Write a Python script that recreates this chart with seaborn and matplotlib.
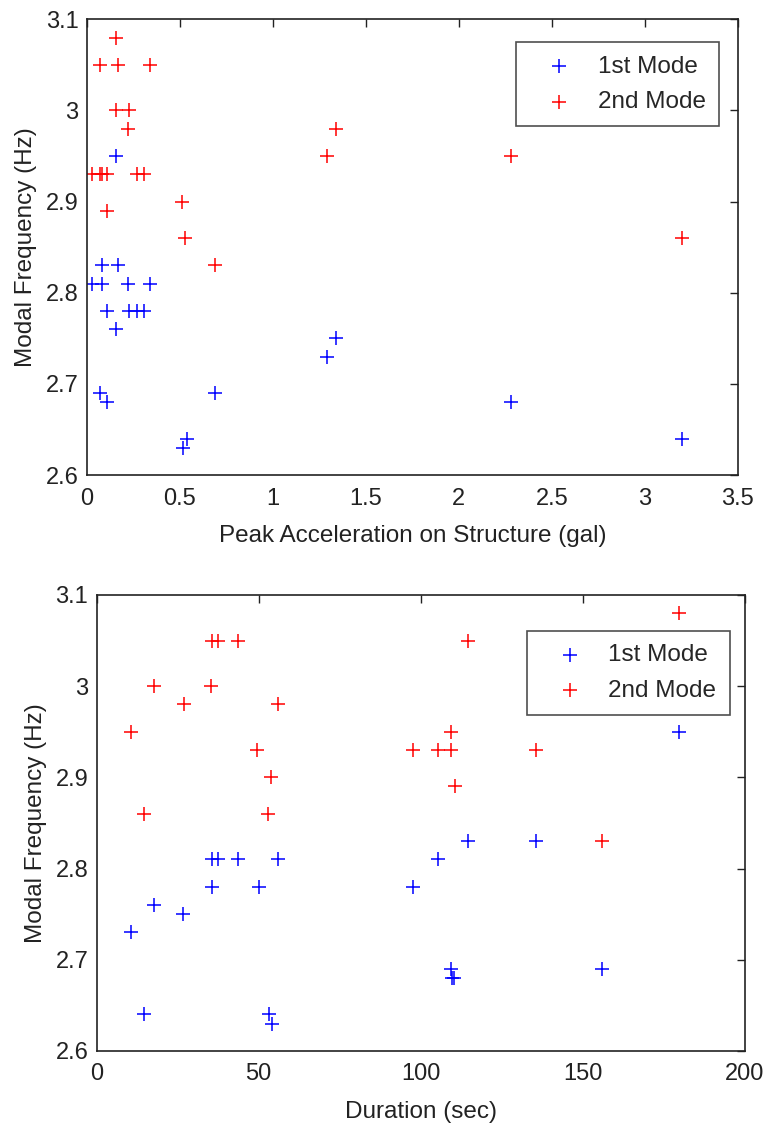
import numpy as np
import pandas as pd
import matplotlib
matplotlib.use("Agg")
import matplotlib.pyplot as plt
import seaborn as sns

# ---- data ----
# top panel: peak acceleration (gal) vs modal frequency (Hz)
acc_mode1_x = [0.16, 0.08, 0.17, 0.03, 0.08, 0.22, 0.34, 0.11, 0.23, 0.27, 0.31,
               0.16, 1.29, 1.34, 0.07, 0.11, 0.69, 0.54, 0.52, 2.28, 3.20]
acc_mode1_y = [2.95, 2.83, 2.83, 2.81, 2.81, 2.81, 2.81, 2.78, 2.78, 2.78, 2.78,
               2.76, 2.73, 2.75, 2.69, 2.68, 2.69, 2.64, 2.63, 2.68, 2.64]
acc_mode2_x = [0.16, 0.07, 0.17, 0.34, 0.16, 0.23, 0.22, 1.29, 1.34, 0.03, 0.07,
               0.08, 0.11, 0.27, 0.31, 0.11, 0.51, 0.53, 0.69, 2.28, 3.20]
acc_mode2_y = [3.08, 3.05, 3.05, 3.05, 3.00, 3.00, 2.98, 2.95, 2.98, 2.93, 2.93,
               2.93, 2.93, 2.93, 2.93, 2.89, 2.90, 2.86, 2.83, 2.95, 2.86]

# bottom panel: duration (sec) vs modal frequency (Hz)
dur_mode1_x = [35.5, 37.5, 43.5, 56.0, 35.5, 50.2, 17.7, 26.7, 10.6, 14.6, 53.3,
               54.0, 179.7, 114.7, 135.5, 105.4, 97.7, 109.5, 110.3, 109.8, 155.8]
dur_mode1_y = [2.81, 2.81, 2.81, 2.81, 2.78, 2.78, 2.76, 2.75, 2.73, 2.64, 2.64,
               2.63, 2.95, 2.83, 2.83, 2.81, 2.78, 2.69, 2.68, 2.68, 2.69]
dur_mode2_x = [35.5, 37.5, 43.5, 17.7, 35.3, 27.0, 56.0, 10.6, 49.6, 53.7, 14.6,
               52.8, 179.7, 114.7, 109.5, 97.7, 105.4, 109.5, 135.5, 110.6, 155.8]
dur_mode2_y = [3.05, 3.05, 3.05, 3.00, 3.00, 2.98, 2.98, 2.95, 2.93, 2.90, 2.86,
               2.86, 3.08, 3.05, 2.95, 2.93, 2.93, 2.93, 2.93, 2.89, 2.83]

y_ticks = [2.6, 2.7, 2.8, 2.9, 3.0, 3.1]
y_tick_labels = ["2.6", "2.7", "2.8", "2.9", "3", "3.1"]
acc_ticks = [0, 0.5, 1, 1.5, 2, 2.5, 3, 3.5]
acc_tick_labels = ["0", "0.5", "1", "1.5", "2", "2.5", "3", "3.5"]
dur_ticks = [0, 50, 100, 150, 200]
dur_tick_labels = ["0", "50", "100", "150", "200"]

series_names = ["1st Mode", "2nd Mode"]

sns.set_style("white")
plt.rcParams["font.family"] = ["Liberation Sans", "DejaVu Sans"]

fig = plt.figure(figsize=(7.67, 11.24), dpi=100)
ax_top = fig.add_axes([0.113, 0.5774, 0.849, 0.4054])
ax_bot = fig.add_axes([0.126, 0.065, 0.845, 0.4057])

TXT = "#222222"


def draw_panel(ax, x1, y1, x2, y2, xticks, xlabels, xlabel, xlim, leg_anchor):
    sns.scatterplot(x=x1, y=y1, ax=ax, marker="+", color="#0000ff", s=100,
                    linewidth=1.1, label=series_names[0])
    sns.scatterplot(x=x2, y=y2, ax=ax, marker="+", color="#ff0000", s=100,
                    linewidth=1.1, label=series_names[1])
    ax.set_xlim(xlim)
    ax.set_ylim(2.6, 3.1)
    ax.set_xticks(xticks)
    ax.set_xticklabels(xlabels)
    ax.set_yticks(y_ticks)
    ax.set_yticklabels(y_tick_labels)
    ax.tick_params(direction="in", length=6, width=1.0, top=True, right=True,
                   labelsize=17, colors=TXT, pad=6)
    ax.tick_params(axis="x", pad=9)
    for sp in ax.spines.values():
        sp.set_visible(True)
        sp.set_color(TXT)
        sp.set_linewidth(1.2)
    ax.set_xlabel(xlabel, fontsize=17.5, color=TXT, labelpad=11)
    ax.set_ylabel("Modal Frequency (Hz)", fontsize=17.5, color=TXT, labelpad=6)
    leg = ax.legend(loc="upper right", bbox_to_anchor=leg_anchor, borderaxespad=0,
                    frameon=True, fancybox=False, fontsize=17.5, handletextpad=0.4,
                    handlelength=2.4, borderpad=0.55, labelspacing=0.55)
    leg.get_frame().set_edgecolor(TXT)
    leg.get_frame().set_linewidth(1.2)


draw_panel(ax_top, acc_mode1_x, acc_mode1_y, acc_mode2_x, acc_mode2_y,
           acc_ticks, acc_tick_labels, "Peak Acceleration on Structure (gal)",
           (0, 3.5), (0.971, 0.9495))
draw_panel(ax_bot, dur_mode1_x, dur_mode1_y, dur_mode2_x, dur_mode2_y,
           dur_ticks, dur_tick_labels, "Duration (sec)",
           (0, 200), (0.977, 0.921))

fig.savefig("out.png", dpi=100)
